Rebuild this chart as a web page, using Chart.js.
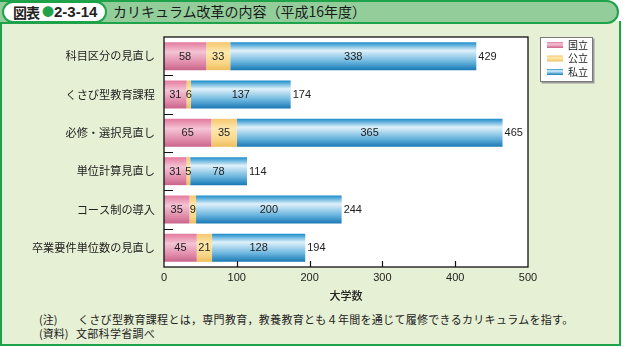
<!DOCTYPE html>
<html lang="ja">
<head>
<meta charset="utf-8">
<title>カリキュラム改革の内容（平成16年度）</title>
<script src="https://cdn.jsdelivr.net/npm/chart.js@4/dist/chart.umd.min.js"></script>
<style>
  body { margin: 0; background: #fff; width: 624px; height: 348px; overflow: hidden; position: relative; font-family: "Noto Sans CJK JP", sans-serif; color: #222; }
  .frame { position: absolute; left: 0; top: 21px; width: 617px; height: 323px; background: #e6f0d4; border: 2px solid #1fa34a; border-top: none; }
  .header { position: absolute; left: 0; top: 0; width: 617px; height: 20px; background: #93cd9a; border: 2px solid #1fa34a; border-left: none; border-radius: 0 12px 12px 0; }
  .badge { position: absolute; left: 2px; top: 1px; width: 101px; height: 18px; background: #fff; border: 2px solid #1fa34a; border-radius: 11px; font-weight: bold; font-size: 14px; line-height: 18px; white-space: nowrap; }
  .badge .k { position: absolute; left: 9px; top: 0; letter-spacing: -1px; }
  .badge .dot { position: absolute; left: 38px; top: 0; color: #1fa34a; font-size: 12px; }
  .badge .n { position: absolute; left: 50px; top: 0; font-family: "Liberation Sans", sans-serif; font-size: 15px; }
  .title { position: absolute; left: 113px; top: 1px; font-size: 14px; line-height: 20px; color: #1a1a1a; white-space: nowrap; }
  .notes { position: absolute; left: 39px; top: 312px; font-size: 11px; line-height: 14px; white-space: nowrap; letter-spacing: 0.3px; }
  .notes span { display: inline-block; width: 39px; letter-spacing: 0; }
  #chart { position: absolute; left: 0; top: 0; }
</style>
</head>
<body>
<div class="frame"></div>
<div class="header"></div>
<div class="badge"><span class="k">図表</span><span class="dot">●</span><span class="n">2-3-14</span></div>
<div class="title">カリキュラム改革の内容（平成16年度）</div>
<div class="notes">
  <div><span>(注)</span>くさび型教育課程とは，専門教育，教養教育とも４年間を通じて履修できるカリキュラムを指す。</div>
  <div><span style="width:37px">(資料)</span>文部科学省調べ</div>
</div>
<canvas id="chart" width="624" height="348"></canvas>
<script>
const categories = ['科目区分の見直し', 'くさび型教育課程', '必修・選択見直し', '単位計算見直し', 'コース制の導入', '卒業要件単位数の見直し'];
const seriesNames = ['国立', '公立', '私立'];
const national = [58, 31, 65, 31, 35, 45];
const publicUni = [33, 6, 35, 5, 9, 21];
const privateUni = [338, 137, 365, 78, 200, 128];
const xTicks = [0, 100, 200, 300, 400, 500];

const totals = categories.map((_, i) => national[i] + publicUni[i] + privateUni[i]);

// vertical gradient stops per series: darker edges, pale band near the top
const gradStops = [
  [[0, '#e47a9e'], [0.35, '#f4c4d5'], [0.75, '#e08aa8'], [1, '#c8648a']],
  [[0, '#f5c76e'], [0.35, '#fde9ad'], [0.75, '#f8d688'], [1, '#efbd5e']],
  [[0, '#1b8ccb'], [0.3, '#dff1fa'], [0.7, '#6ab5de'], [1, '#1878b4']]
];
const flatColors = ['#e08aa8', '#f8d688', '#4aa6d8'];

const BAR_PCT = 0.73;
const textColor = '#222';
const numFont = '11px "Liberation Sans", Arial, sans-serif';

function makeGradient(ctx, top, bottom, stops) {
  const g = ctx.createLinearGradient(0, top, 0, bottom);
  stops.forEach(s => g.addColorStop(s[0], s[1]));
  return g;
}

function barColor(seriesIndex) {
  return function(c) {
    const chart = c.chart;
    const ys = chart.scales.y;
    if (!ys || !chart.chartArea) return flatColors[seriesIndex];
    const yc = ys.getPixelForValue(c.dataIndex);
    const half = (ys.bottom - ys.top) / categories.length * BAR_PCT / 2;
    return makeGradient(chart.ctx, yc - half, yc + half, gradStops[seriesIndex]);
  };
}

// white plot background
const plotBackground = {
  id: 'plotBackground',
  beforeDraw(chart) {
    const { ctx, chartArea: a } = chart;
    ctx.save();
    ctx.fillStyle = '#fff';
    ctx.fillRect(a.left, a.top, a.right - a.left, a.bottom - a.top);
    ctx.restore();
  }
};

// frame, inward tick marks and legend box
const frameAndTicks = {
  id: 'frameAndTicks',
  afterDraw(chart) {
    const { ctx, chartArea: a, scales } = chart;
    ctx.save();
    ctx.strokeStyle = '#111';
    ctx.lineWidth = 1.3;
    ctx.strokeRect(a.left, a.top, a.right - a.left, a.bottom - a.top);

    ctx.lineWidth = 1.2;
    ctx.beginPath();
    for (let i = 0; i < categories.length - 1; i++) {
      const y = Math.round((scales.y.getPixelForValue(i) + scales.y.getPixelForValue(i + 1)) / 2) + 0.5;
      ctx.moveTo(a.left, y);
      ctx.lineTo(a.left + 9, y);
    }
    xTicks.slice(1, -1).forEach(v => {
      const x = Math.round(scales.x.getPixelForValue(v)) + 0.5;
      ctx.moveTo(x, a.bottom);
      ctx.lineTo(x, a.bottom - 6);
    });
    ctx.stroke();

    // legend
    const lx = a.right + 12, ly = a.top, lw = 53, lh = 45;
    ctx.fillStyle = '#9a9a9a';
    ctx.fillRect(lx + 1.5, ly + 1.5, lw, lh);
    ctx.fillStyle = '#fff';
    ctx.fillRect(lx, ly, lw, lh);
    ctx.strokeStyle = '#7a7a7a';
    ctx.lineWidth = 1;
    ctx.strokeRect(lx + 0.5, ly + 0.5, lw - 1, lh - 1);
    ctx.font = '10px "Noto Sans CJK JP", sans-serif';
    ctx.textBaseline = 'middle';
    ctx.textAlign = 'left';
    seriesNames.forEach((name, i) => {
      const cy = ly + 8 + i * 13.5;
      ctx.fillStyle = makeGradient(ctx, cy - 3, cy + 3, gradStops[i]);
      ctx.fillRect(lx + 7, cy - 3, 16, 6);
      ctx.fillStyle = textColor;
      ctx.fillText(name, lx + 28, cy);
    });
    ctx.restore();
  }
};

// values inside each segment, total after the bar
const valueLabels = {
  id: 'valueLabels',
  afterDatasetsDraw(chart) {
    const { ctx } = chart;
    ctx.save();
    ctx.font = numFont;
    ctx.fillStyle = textColor;
    ctx.textBaseline = 'middle';
    chart.data.datasets.forEach((ds, di) => {
      const meta = chart.getDatasetMeta(di);
      meta.data.forEach((el, i) => {
        ctx.textAlign = 'center';
        ctx.fillText(String(ds.data[i]), (el.x + el.base) / 2, el.y + 0.5);
        if (di === chart.data.datasets.length - 1) {
          ctx.textAlign = 'left';
          ctx.fillText(String(totals[i]), el.x + 2, el.y + 0.5);
        }
      });
    });
    ctx.restore();
  }
};

const datasets = [national, publicUni, privateUni].map((data, i) => ({
  label: seriesNames[i],
  data: data,
  backgroundColor: barColor(i),
  borderWidth: 0,
  barPercentage: BAR_PCT,
  categoryPercentage: 1
}));

new Chart(document.getElementById('chart'), {
  type: 'bar',
  data: { labels: categories, datasets: datasets },
  options: {
    indexAxis: 'y',
    responsive: false,
    animation: false,
    devicePixelRatio: 1,
    layout: { padding: { left: 0, right: 96, top: 37, bottom: 45 } },
    plugins: { legend: { display: false }, tooltip: { enabled: false } },
    scales: {
      x: {
        stacked: true,
        min: 0,
        max: 500,
        afterBuildTicks: scale => { scale.ticks = xTicks.map(v => ({ value: v })); },
        afterFit: scale => { scale.height = 36; },
        grid: { display: false, drawTicks: false },
        border: { display: false },
        ticks: { padding: 4, color: textColor, font: { family: '"Liberation Sans", Arial, sans-serif', size: 11 } },
        title: {
          display: true,
          text: '大学数',
          color: textColor,
          padding: { top: 0, bottom: 1 },
          font: { family: '"Noto Sans CJK JP", sans-serif', size: 11, weight: '500' }
        }
      },
      y: {
        stacked: true,
        afterFit: scale => { scale.width = 164; },
        grid: { display: false, drawTicks: false },
        border: { display: false },
        ticks: { padding: 9, color: textColor, font: { family: '"Noto Sans CJK JP", sans-serif', size: 11.2 } }
      }
    }
  },
  plugins: [plotBackground, valueLabels, frameAndTicks]
});
</script>
</body>
</html>
